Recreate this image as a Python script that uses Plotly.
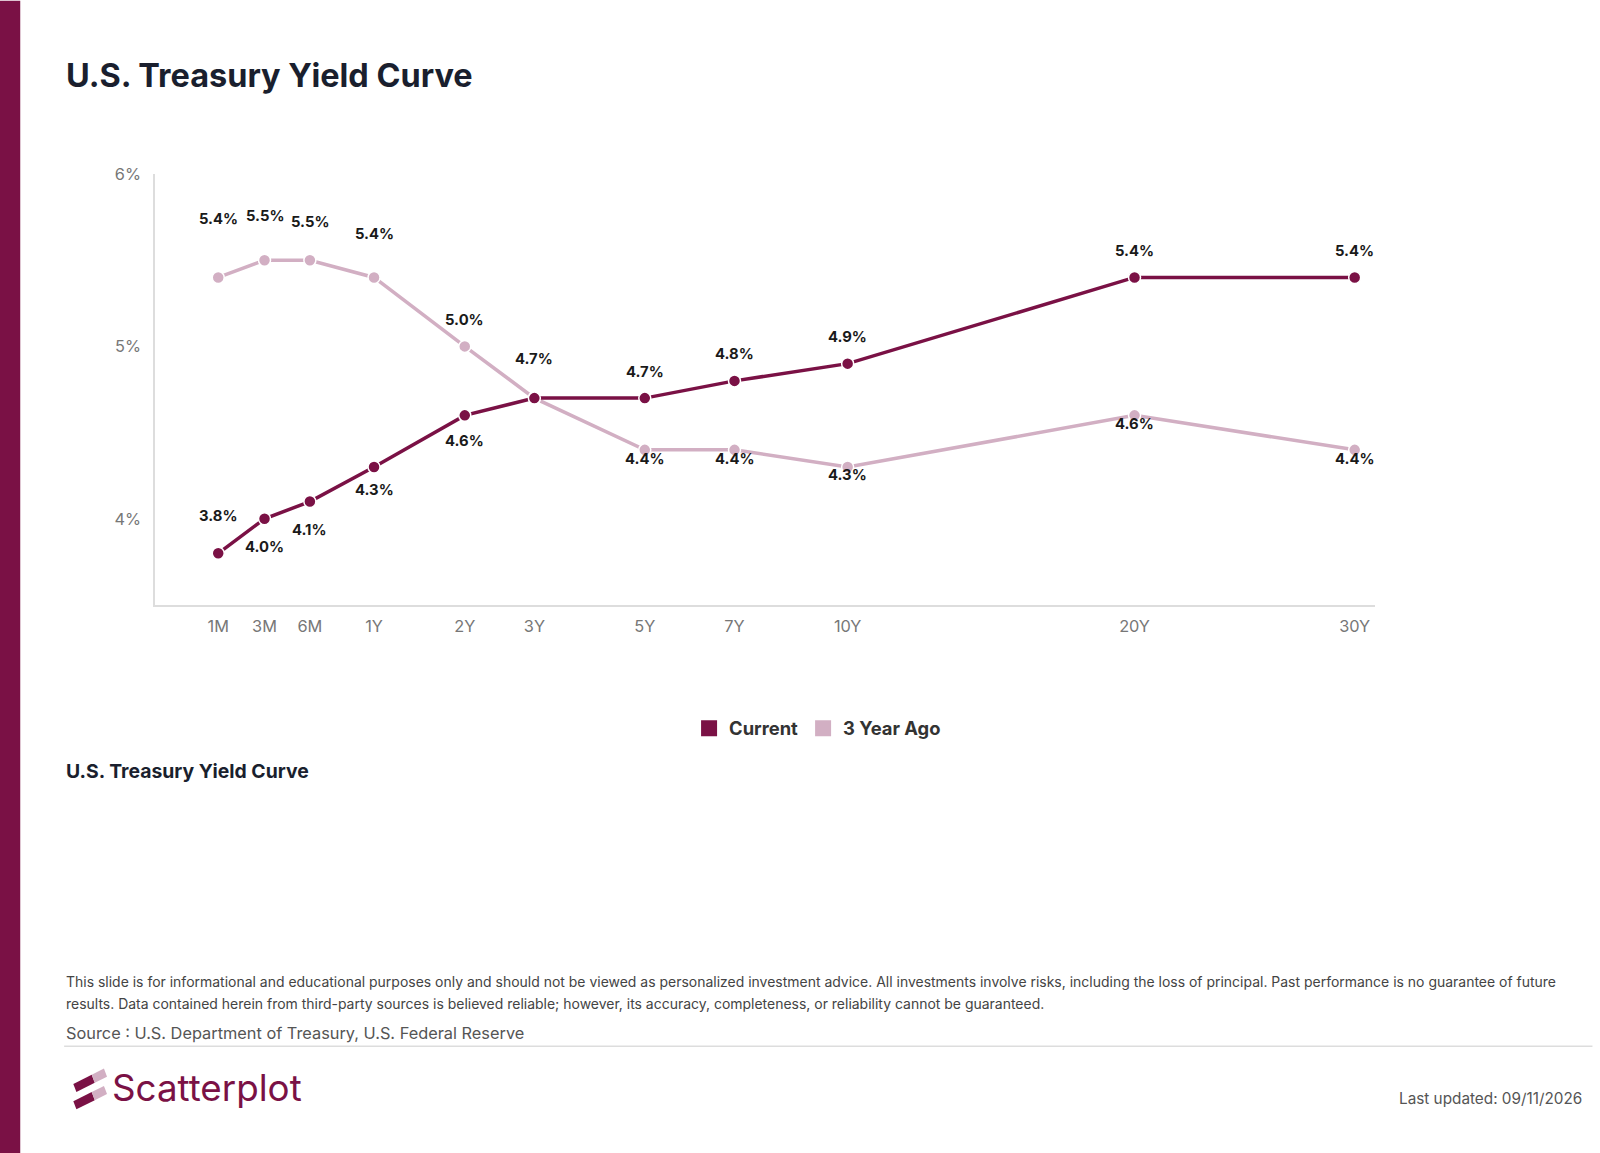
import math
import plotly.graph_objects as go

tenors = ["1M", "3M", "6M", "1Y", "2Y", "3Y", "5Y", "7Y", "10Y", "20Y", "30Y"]
years = [1/12, 0.25, 0.5, 1, 2, 3, 5, 7, 10, 20, 30]
current = [3.8, 4.0, 4.1, 4.3, 4.6, 4.7, 4.7, 4.8, 4.9, 5.4, 5.4]
ago = [5.4, 5.5, 5.5, 5.4, 5.0, 4.7, 4.4, 4.4, 4.3, 4.6, 4.4]
# label offsets (px, positive = up)
cur_shift = [37, -28, -28, -22, -25, 38, 26, 26, 26, 26, 26]
ago_shift = [57, 43, 37, 43, 26, None, -9, -9, -8, -8, -9]

K = 1.021
def S(v):
    return v * K

DARK = "#7A1145"
LIGHT = "#D2AFC3"
W, H = 1600, 1153
L, R, T, B = S(152), S(1347), S(170), S(593)

def px(X):
    return (S(X) - L) / (R - L)

def py(Y):
    return (B - S(Y)) / (B - T)

xs = [math.sqrt(y) for y in years]

fig = go.Figure()
fig.add_trace(go.Scatter(
    x=xs, y=ago, mode="lines+markers", name="3 Year Ago", showlegend=False,
    line=dict(color=LIGHT, width=3.5),
    marker=dict(size=12, color=LIGHT, line=dict(color="white", width=1.5)),
))
fig.add_trace(go.Scatter(
    x=xs, y=current, mode="lines+markers", name="Current", showlegend=False,
    line=dict(color=DARK, width=3.5),
    marker=dict(size=12, color=DARK, line=dict(color="white", width=1.5)),
))
for name, col in [("Current", DARK), ("3 Year Ago", LIGHT)]:
    fig.add_trace(go.Scatter(x=[None], y=[None], mode="markers", name=name,
                             marker=dict(symbol="square", size=16, color=col)))

for series, shifts in [(current, cur_shift), (ago, ago_shift)]:
    for x, v, s in zip(xs, series, shifts):
        if s is None:
            continue
        fig.add_annotation(x=x, y=v, text=f"<b>{v:.1f}%</b>", showarrow=False, yshift=S(s),
                           font=dict(family="Inter, Arial", size=S(14.5), color="#1a1a1a"))

fig.update_layout(
    width=W, height=H, margin=dict(l=L, r=W - R, t=T, b=H - B),
    plot_bgcolor="white", paper_bgcolor="white",
    font=dict(family="Inter, Arial", color="#333"),
    xaxis=dict(range=[0, 5.57], tickvals=xs, ticktext=tenors, showgrid=False, zeroline=False,
               showline=True, linecolor="#dddddd", linewidth=1.5, ticks="",
               ticklabelstandoff=6, tickfont=dict(size=S(16), color="#777")),
    yaxis=dict(range=[3.5, 6.0], tickvals=[4, 5, 6], ticktext=["4%", "5%", "6%"], showgrid=False,
               zeroline=False, showline=True, linecolor="#dddddd", linewidth=1.5, ticks="",
               ticklabelstandoff=9, tickfont=dict(size=S(16), color="#777")),
    legend=dict(orientation="h", x=px(801), y=py(714), xanchor="center", yanchor="middle",
                font=dict(size=S(18), color="#333", weight="bold"), itemwidth=30,
                traceorder="normal", tracegroupgap=0),
    showlegend=True,
)

def ann(text, X, Y, size, color="#111", bold=False, xanchor="left"):
    fig.add_annotation(text=f"<b>{text}</b>" if bold else text, x=px(X), y=py(Y), xref="paper", yref="paper",
                       xanchor=xanchor, yanchor="middle", showarrow=False,
                       font=dict(size=S(size), color=color, family="Inter, Arial"))

ann("U.S. Treasury Yield Curve", 63, 73, 31.8, "#1a1f2e", True)
ann("U.S. Treasury Yield Curve", 63, 756, 19, "#1a1f2e", True)
ann("This slide is for informational and educational purposes only and should not be viewed as personalized investment advice. All investments involve risks, including the loss of principal. Past performance is no guarantee of future", 63, 963, 13.7, "#444")
ann("results. Data contained herein from third-party sources is believed reliable; however, its accuracy, completeness, or reliability cannot be guaranteed.", 63, 984, 13.7, "#444")
ann("Source : U.S. Department of Treasury, U.S. Federal Reserve", 63, 1013, 16, "#555")
ann("Scatterplot", 108, 1067, 36, DARK)
ann("Last updated: 09/11/2026", 1552, 1077, 15, "#555", xanchor="right")

shapes = [
    dict(type="rect", xref="paper", yref="paper", x0=px(0), x1=px(20), y0=py(1200), y1=py(0),
         fillcolor=DARK, line=dict(width=0)),
    dict(type="line", xref="paper", yref="paper", x0=px(63), x1=px(1560), y0=py(1026), y1=py(1026),
         line=dict(color="#dddddd", width=1.5)),
]
def bar(x0, y0, x1, y1, col):
    t = 8
    pts = [(x0, y0), (x1, y1), (x1 + 3, y1 + t), (x0 + 3, y0 + t)]
    path = "M " + " L ".join(f"{px(a)},{py(b)}" for a, b in pts) + " Z"
    return dict(type="path", xref="paper", yref="paper", path=path, fillcolor=col, line=dict(width=0))
shapes += [bar(72, 1063, 90, 1054, DARK), bar(90, 1054, 102, 1048, LIGHT),
           bar(72, 1080, 90, 1071, DARK), bar(90, 1071, 102, 1065, LIGHT)]
fig.update_layout(shapes=shapes)

fig.write_html("out.html", config={"displayModeBar": False},
               post_script="document.body.style.margin='0';document.body.style.overflow='hidden';")
